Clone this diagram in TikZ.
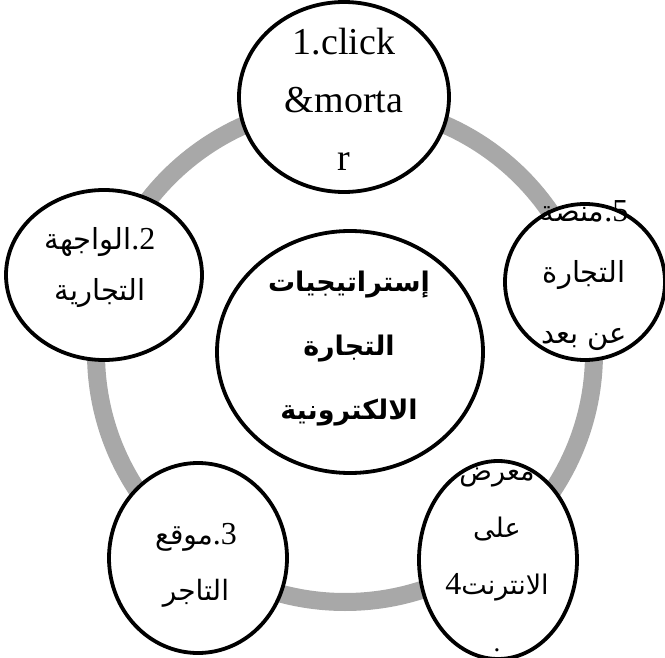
\documentclass[tikz,border=0pt]{standalone}
\usepackage{fontspec}
\setmainfont{Liberation Serif}
\newfontfamily\arfont[Script=Arabic]{DejaVu Sans}
\TeXXeTstate=1
\usetikzlibrary{shapes.geometric}
\definecolor{ringgray}{RGB}{168,168,168}
\tikzset{
  bubble/.style={ellipse, draw=black, line width=3.8pt, fill=white, inner sep=0pt},
  lbl/.style={align=center, inner sep=0pt},
  ringline/.style={draw=ringgray, line width=18pt}
}
\newcommand{\ar}[1]{{\arfont\beginR #1\endR}}
\begin{document}
\begin{tikzpicture}[x=1pt,y=-1pt]
\useasboundingbox (0,0) rectangle (665,658);
\coordinate (rc) at (345,353);
\draw[ringline] (rc) circle[radius=249];
% outer bubbles
\node[bubble, minimum width=210pt, minimum height=190pt] (n1) at (344,97) {};
\node[bubble, minimum width=196pt, minimum height=170pt] (n2) at (104,275) {};
\node[bubble, minimum width=160pt, minimum height=156pt] (n5) at (585,282) {};
\node[bubble, minimum width=178pt, minimum height=190pt] (n3) at (198,558) {};
\node[bubble, minimum width=158pt, minimum height=198pt] (n4) at (498,560) {};
\node[bubble, minimum width=266pt, minimum height=242pt] (nc) at (350,352) {};
% texts
\node[lbl, font=\fontsize{38}{58}\selectfont] (t1) at (344,99) {1.click\\\&morta\\r};
\node[lbl, font=\fontsize{29}{51}\selectfont] (t2) at (100,268) {\ar{الواجهة}{\fontsize{32}{51}\selectfont.2}\\\ar{التجارية}};
\node[lbl, font=\fontsize{29}{61}\selectfont] (t5) at (584,276) {\ar{منصة}{\fontsize{32}{61}\selectfont.5}\\\ar{التجارة}\\\ar{عن بعد}};
\node[lbl, font=\fontsize{27}{64}\bfseries\selectfont] (tc) at (349,349) {\ar{\bfseries إستراتيجيات}\\\ar{\bfseries التجارة}\\\ar{\bfseries الالكترونية}};
\node[lbl, font=\fontsize{28}{56}\selectfont] (t3) at (196,565) {\ar{موقع}{\fontsize{32}{56}\selectfont.3}\\\ar{التاجر}};
\node[lbl, font=\fontsize{27}{57}\selectfont] (t4) at (497,560) {\ar{معرض}\\\ar{على}\\{\fontsize{32}{57}\selectfont 4}\ar{الانترنت}\\.};
\end{tikzpicture}
\end{document}
